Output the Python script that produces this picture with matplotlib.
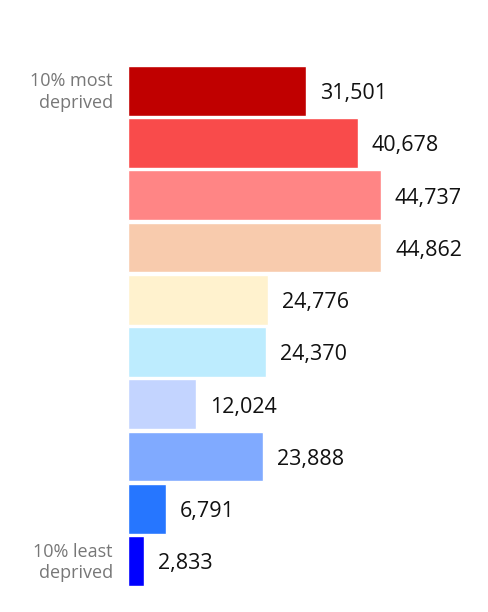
import matplotlib
matplotlib.use("Agg")
import matplotlib.pyplot as plt

# Decile counts, most deprived first
deciles = list(range(10))
values = [31501, 40678, 44737, 44862, 24776, 24370, 12024, 23888, 6791, 2833]
colors = ["#C00000", "#F94B4B", "#FF8585", "#F8CBAD", "#FFF2CE",
          "#BDECFE", "#C3D4FF", "#80AAFF", "#2676FF", "#0000FF"]
end_labels = {0: "10% most\ndeprived", 9: "10% least\ndeprived"}

plt.rcParams["font.family"] = ["Open Sans", "DejaVu Sans"]

fig = plt.figure(figsize=(4.89, 6.12), dpi=100)
ax = fig.add_axes([128 / 489, 0.0407, 340 / 489, 0.8536])

ax.barh(deciles, values, height=0.95, color=colors, edgecolor="white", linewidth=1)
ax.set_ylim(9.5, -0.5)
ax.set_xlim(0, 60200)

for i, v in zip(deciles, values):
    ax.annotate(f"{v:,}", (v, i), xytext=(10, -2), textcoords="offset points",
                va="center", ha="left", fontsize=15.5, color="#111111")

for i, txt in end_labels.items():
    ax.annotate(txt, (0, i), xytext=(-11, -1), textcoords="offset points",
                va="center", ha="right", fontsize=13, color="#777777",
                linespacing=1.25)

ax.axis("off")
fig.savefig("out.png", dpi=100)
